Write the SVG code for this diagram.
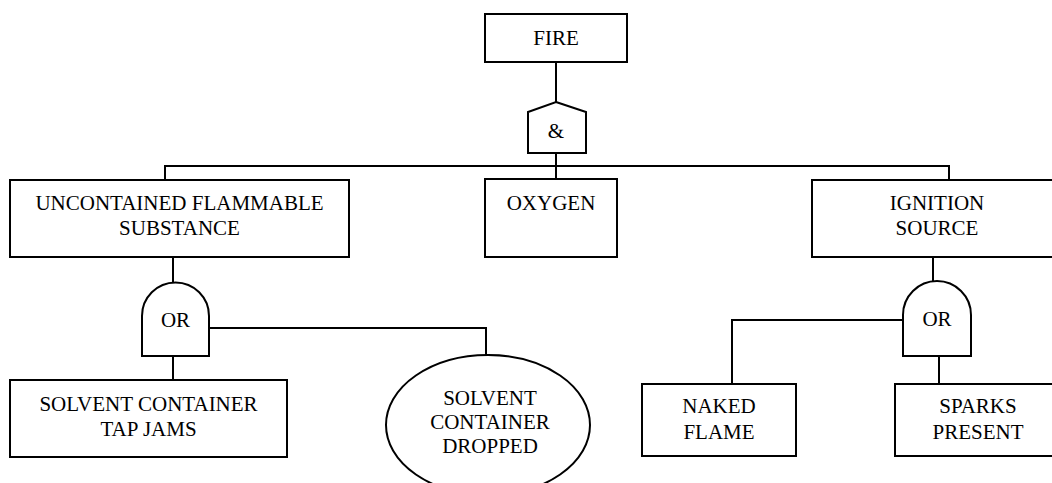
<svg xmlns="http://www.w3.org/2000/svg" width="1052" height="483" viewBox="0 0 1052 483">
<style>
.box{fill:#fff;stroke:#000;stroke-width:2}
.ln{fill:none;stroke:#000;stroke-width:2}
text{font-family:"Liberation Serif","Times New Roman",serif;font-size:21px;fill:#000;text-anchor:middle}
</style>
<rect width="1052" height="483" fill="#fff"/>
<g id="connectors">
<path class="ln" d="M556,62 V102"/>
<path class="ln" d="M556,150 V166 M165,180 V166 H949 V180 M556,166 V179"/>
<path class="ln" d="M173,257 V282 M173,356 V381"/>
<path class="ln" d="M209,328 H486 V356"/>
<path class="ln" d="M933,257 V281 M939,356 V384"/>
<path class="ln" d="M903,320 H732 V384"/>
</g>
<g id="fire"><rect class="box" x="485" y="14" width="142" height="48"/><text x="556" y="45">FIRE</text></g>
<g id="and-gate"><polygon class="box" points="556,102 586,112 586,153 528,153 528,112"/><text x="556" y="138">&amp;</text></g>
<g id="uncontained"><rect class="box" x="10" y="180" width="339" height="77"/><text x="179.5" y="210">UNCONTAINED FLAMMABLE</text><text x="179.5" y="235">SUBSTANCE</text></g>
<g id="oxygen"><rect class="box" x="485" y="179" width="132" height="78"/><text x="551" y="210">OXYGEN</text></g>
<g id="ignition"><rect class="box" x="812" y="180" width="260" height="77"/><text x="937" y="210">IGNITION</text><text x="937" y="235">SOURCE</text></g>
<g id="or-left"><path class="box" d="M142,356 V316 A33.5,33.5 0 0 1 209,316 V356 Z"/><text x="175.5" y="327">OR</text></g>
<g id="or-right"><path class="box" d="M903,356 V315 A34,34 0 0 1 971,315 V356 Z"/><text x="937" y="326">OR</text></g>
<g id="tap-jams"><rect class="box" x="10" y="380" width="277" height="77"/><text x="148.5" y="411">SOLVENT CONTAINER</text><text x="148.5" y="436">TAP JAMS</text></g>
<g id="dropped"><ellipse class="box" cx="488" cy="425" rx="102" ry="70"/><text x="490" y="405">SOLVENT</text><text x="490" y="429">CONTAINER</text><text x="490" y="453">DROPPED</text></g>
<g id="naked-flame"><rect class="box" x="642" y="384" width="154" height="72"/><text x="719" y="413">NAKED</text><text x="719" y="439">FLAME</text></g>
<g id="sparks"><rect class="box" x="895" y="384" width="170" height="72"/><text x="978" y="413">SPARKS</text><text x="978" y="439">PRESENT</text></g>
</svg>
